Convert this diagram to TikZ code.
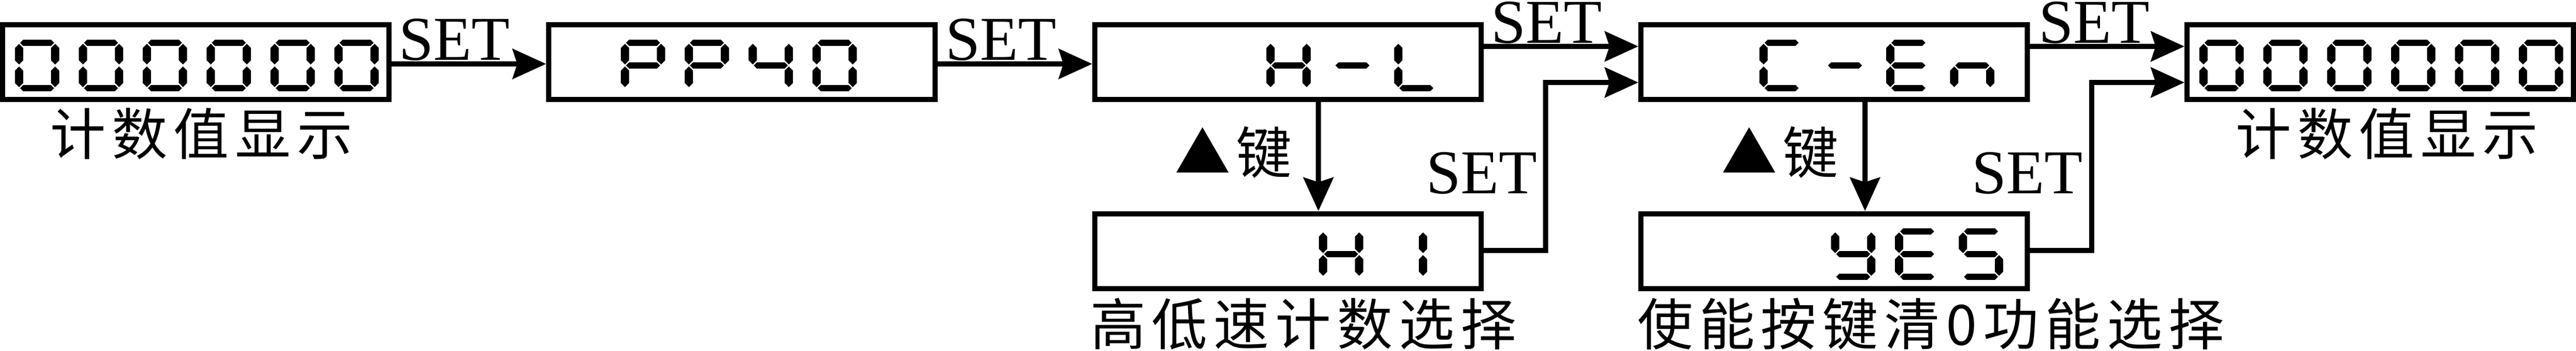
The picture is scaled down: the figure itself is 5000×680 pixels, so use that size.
\documentclass[tikz,border=0pt]{standalone}
\usepackage{fontspec}
\setmainfont{Liberation Serif}
\newfontfamily\cjk{Noto Sans CJK SC}[LetterSpace=11]
\usetikzlibrary{arrows.meta}
% seven-segment pieces (local frame 86 x 100, y downwards)
\newcommand\sga{\fill (10,6)--(16,0)--(70,0)--(76,6)--(70,12)--(16,12)--cycle;}
\newcommand\sgg{\fill (10,50)--(16,44)--(70,44)--(76,50)--(70,56)--(16,56)--cycle;}
\newcommand\sgd{\fill (10,94)--(16,88)--(70,88)--(76,94)--(70,100)--(16,100)--cycle;}
\newcommand\sgf{\fill (8,8)--(16,16)--(16,40)--(8,48)--(0,40)--(0,16)--cycle;}
\newcommand\sge{\fill (8,52)--(16,60)--(16,84)--(8,92)--(0,84)--(0,60)--cycle;}
\newcommand\sgb{\fill (78,8)--(86,16)--(86,40)--(78,48)--(70,40)--(70,16)--cycle;}
\newcommand\sgc{\fill (78,52)--(86,60)--(86,84)--(78,92)--(70,84)--(70,60)--cycle;}
\newcommand\dg[3]{\begin{scope}[shift={(#1,#2)}]#3\end{scope}}
\newcommand\dzero{\sga\sgb\sgc\sgd\sge\sgf}
\newcommand\dP{\sga\sgb\sge\sgf\sgg}
\newcommand\dfour{\sgb\sgc\sgf\sgg}
\newcommand\dH{\sgb\sgc\sge\sgf\sgg}
\newcommand\dL{\sgd\sge\sgf}
\newcommand\dC{\sga\sgd\sge\sgf}
\newcommand\dE{\sga\sgd\sge\sgf\sgg}
\newcommand\dn{\sgc\sge\sgg}
\newcommand\dI{\sgb\sgc}
\newcommand\dY{\sgb\sgc\sgd\sgf\sgg}
\newcommand\dS{\sga\sgc\sgd\sgf\sgg}
\begin{document}
\begin{tikzpicture}[x=1pt,y=-1pt,
  box/.style={draw, line width=10pt, minimum width=750pt, minimum height=145pt, inner sep=0pt},
  conn/.style={line width=10pt, -{Stealth[length=65pt,width=58pt,inset=9pt]}},
  setl/.style={font=\fontsize{121}{121}\selectfont, inner sep=0pt, anchor=base west},
  cjkl/.style={font=\cjk\fontsize{108}{108}\selectfont, inner sep=0pt, anchor=base}]
\useasboundingbox (0,0) rectangle (5000,680);
% boxes
\node[box] (b1) at (380,120.5) {};
\node[box] (b2) at (1440,120.5) {};
\node[box] (b3) at (2500,120.5) {};
\node[box] (b4) at (3560,120.5) {};
\node[box] (b5) at (4620,120.5) {};
\node[box] (b6) at (2500,487) {};
\node[box] (b7) at (3560,487) {};
% digits
\foreach \xx in {29,153,277,401,525,649} {\dg{\xx}{77}{\dzero}}
\dg{1205}{77}{\dP}\dg{1329}{77}{\dP}\dg{1453}{77}{\dfour}\dg{1577}{77}{\dzero}
\dg{2458}{77}{\dH}\dg{2582}{77}{\sgg}\dg{2706}{77}{\dL}
\dg{3415}{77}{\dC}\dg{3538}{77}{\sgg}\dg{3661}{77}{\dE}\dg{3785}{77}{\dn}
\foreach \xx in {4269,4393,4517,4641,4765,4889} {\dg{\xx}{77}{\dzero}}
\dg{2560}{443}{\dH}\dg{2684}{443}{\dI}
\dg{3554}{443}{\dY}\dg{3678}{443}{\dE}\dg{3802}{443}{\dS}
% connectors
\coordinate (j1) at (3000,486);
\coordinate (j2) at (4060,486);
\draw[conn] ([yshift=-3.5pt]b1.east) -- ([yshift=-3.5pt]b2.west);
\draw[conn] ([yshift=-3.5pt]b2.east) -- ([yshift=-3.5pt]b3.west);
\draw[conn] ([yshift=30.5pt]b3.east) -- ([yshift=30.5pt]b4.west);
\draw[conn] ([yshift=30.5pt]b4.east) -- ([yshift=30.5pt]b5.west);
\draw[conn] ([yshift=1pt]b6.east) -- (j1) |- ([yshift=-39.5pt]b4.west);
\draw[conn] ([yshift=1pt]b7.east) -- (j2) |- ([yshift=-39.5pt]b5.west);
\draw[conn] ([xshift=59pt]b3.south) -- ([xshift=59pt]b6.north);
\draw[conn] ([xshift=60pt]b4.south) -- ([xshift=60pt]b7.north);
% SET labels
\node[setl] (s1) at (774,116) {SET};
\node[setl] (s2) at (1835,116) {SET};
\node[setl] (s3) at (2894,83) {SET};
\node[setl] (s4) at (3957,83) {SET};
\node[setl] (s5) at (2768,375) {SET};
\node[setl] (s6) at (3827,375) {SET};
% Chinese labels
\node[cjkl] (t1) at (391,300) {计数值显示};
\node[cjkl] (t2) at (4633,300) {计数值显示};
\node[cjkl, anchor=base west] (t3) at (2116,669) {高低速计数选择};
\node[cjkl, anchor=base west] (t4) at (3178,669) {使能按键清0功能选择};
\node[cjkl] (u1) at (2394,336) {▲键};
\node[cjkl] (u2) at (3455,336) {▲键};
\end{tikzpicture}
\end{document}
